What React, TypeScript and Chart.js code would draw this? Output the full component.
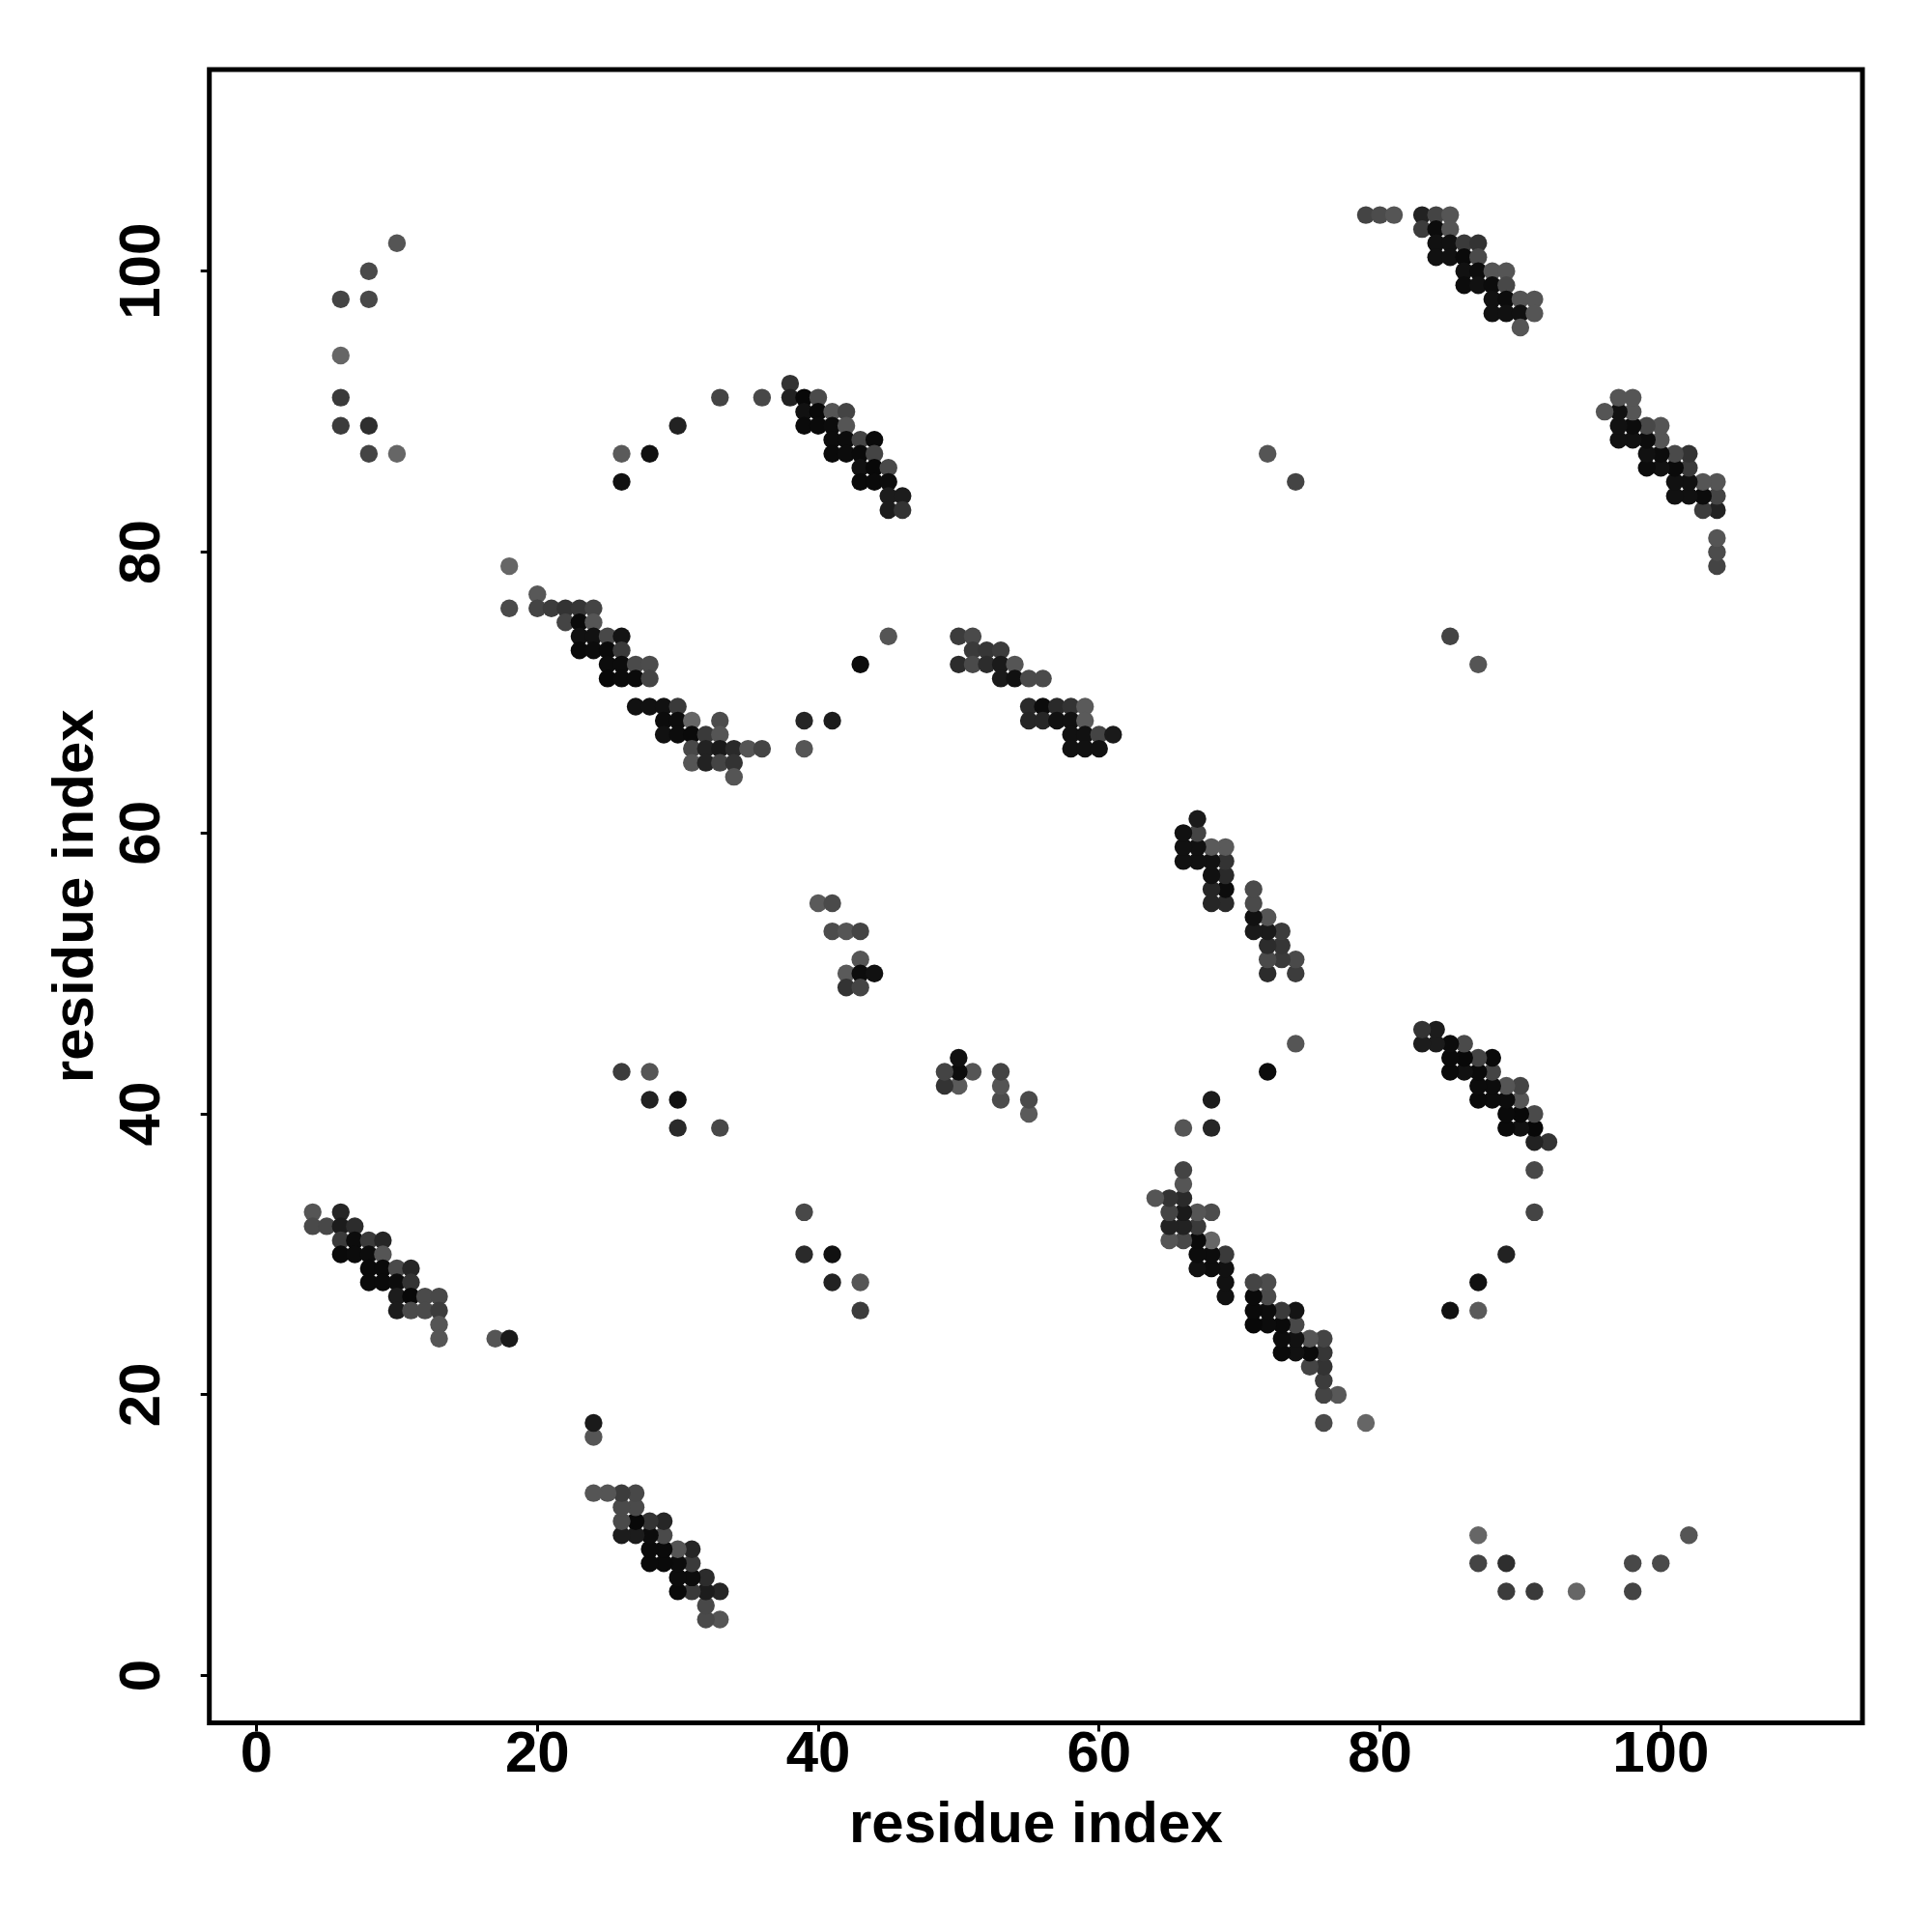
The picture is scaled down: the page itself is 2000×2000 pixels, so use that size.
import React, { useEffect, useRef } from "react";
import { Chart, registerables } from "chart.js";

Chart.register(...registerables);

// Contact pairs (i < j) read from the upper triangle; each contact is drawn at (i, j) and (j, i).
const contactI: number[] = [
  10, 8, 6, 8, 6, 6, 6, 8, 8, 10,
  4, 6, 4, 5, 6, 7, 6, 7, 8, 9, 6, 7, 8, 9, 8, 9, 10, 11, 8, 9, 10, 11, 10, 11, 12, 13, 10, 11, 12, 13, 13, 13, 17, 18,
  18, 18, 20, 20, 21, 22, 23, 24, 22, 23, 24, 23, 24, 25, 26, 23, 24, 25, 26, 25, 26, 27, 28, 25, 26, 27, 28,
  27, 28, 29, 30, 29, 30, 31, 33, 29, 30, 31, 32, 33, 31, 32, 33, 34, 35, 36, 31, 32, 33, 34, 34,
  26, 28, 26, 30, 33, 36, 38, 38, 39, 40, 39, 40, 41, 42, 39, 40, 41, 42, 41, 42, 43, 44, 41, 42, 43, 44,
  43, 44, 45, 43, 44, 45, 45, 46, 45, 46,
  26, 28, 28, 30, 30, 33, 40, 41, 41, 42, 43, 43, 42, 43, 44, 42, 43,
  39, 41, 39, 43, 45, 50, 51, 51, 52, 53, 50, 51, 52, 53, 54, 53, 54, 55, 56,
  55, 56, 57, 58, 59, 55, 56, 57, 58, 59, 58, 59, 60, 61, 58, 59, 60,
  72, 74,
  79, 80, 81, 83, 84, 85, 83, 84, 85, 84, 85, 86, 87, 84, 85, 86, 87, 86, 87, 88, 89, 86, 87, 88, 89,
  88, 89, 90, 91, 88, 89, 90, 91, 90,
];

const contactJ: number[] = [
  102, 100, 98, 98, 94, 91, 89, 89, 87, 87,
  33, 33, 32, 32, 32, 32, 31, 31, 31, 31, 30, 30, 30, 30, 29, 29, 29, 29, 28, 28, 28, 28, 27, 27, 27, 27, 26, 26, 26, 26, 25, 24, 24, 24,
  79, 76, 77, 76, 76, 76, 76, 76, 75, 75, 75, 74, 74, 74, 74, 73, 73, 73, 73, 72, 72, 72, 72, 71, 71, 71, 71,
  69, 69, 69, 69, 68, 68, 68, 68, 67, 67, 67, 67, 67, 66, 66, 66, 66, 66, 66, 65, 65, 65, 65, 64,
  87, 87, 85, 89, 91, 91, 92, 91, 91, 91, 90, 90, 90, 90, 89, 89, 89, 89, 88, 88, 88, 88, 87, 87, 87, 87,
  86, 86, 86, 85, 85, 85, 84, 84, 83, 83,
  43, 43, 41, 41, 39, 39, 55, 55, 53, 53, 53, 51, 50, 50, 50, 49, 49,
  68, 68, 66, 72, 74, 74, 74, 73, 73, 73, 72, 72, 72, 72, 72, 71, 71, 71, 71,
  69, 69, 69, 69, 69, 68, 68, 68, 68, 68, 67, 67, 67, 67, 66, 66, 66,
  87, 85,
  104, 104, 104, 104, 104, 104, 103, 103, 103, 102, 102, 102, 102, 101, 101, 101, 101, 100, 100, 100, 100, 99, 99, 99, 99,
  98, 98, 98, 98, 97, 97, 97, 97, 96,
];

// Grey level (0 = black, 255 = white) of each contact mark.
const contactGrey: number[] = [
  85, 74, 68, 72, 102, 58, 60, 46, 68, 102,
  85, 38, 74, 72, 28, 44, 58, 12, 58, 38, 10, 12, 12, 85, 10, 10, 74, 38, 10, 10, 12, 51, 28, 8, 74, 72, 28, 74, 74, 60, 85, 85, 85, 26,
  102, 74, 88, 68, 60, 51, 54, 68, 68, 10, 85, 17, 17, 72, 20, 10, 12, 10, 58, 12, 12, 74, 76, 8, 10, 10, 68,
  17, 17, 17, 58, 12, 12, 102, 76, 17, 12, 10, 58, 85, 72, 34, 26, 42, 85, 68, 85, 34, 68, 51, 85,
  90, 17, 17, 34, 68, 72, 51, 34, 8, 74, 17, 8, 85, 68, 10, 10, 12, 85, 12, 12, 68, 10, 10, 12, 10, 68,
  17, 8, 74, 10, 10, 12, 28, 28, 28, 51,
  60, 85, 34, 17, 42, 72, 90, 74, 76, 85, 68, 85, 90, 12, 17, 51, 68,
  38, 28, 85, 12, 85, 60, 74, 58, 54, 60, 44, 74, 44, 26, 85, 26, 17, 74, 74,
  42, 12, 42, 51, 90, 38, 38, 17, 17, 90, 17, 17, 68, 26, 17, 17, 17,
  85, 68,
  68, 76, 85, 34, 68, 85, 60, 12, 85, 17, 17, 58, 51, 17, 17, 10, 74, 17, 12, 85, 85, 12, 17, 12, 72,
  17, 12, 85, 85, 17, 17, 17, 85, 85,
];

const axisTicks: number[] = [0, 20, 40, 60, 80, 100];
const axisMin = -3.36;
const axisMax = 114.36;
const axisTitle = "residue index";

const FONT = "'Liberation Sans', Arial, Helvetica, sans-serif";

export default function App() {
  const canvasRef = useRef<HTMLCanvasElement | null>(null);

  useEffect(() => {
    const canvas = canvasRef.current;
    if (!canvas) return;

    const points: { x: number; y: number }[] = [];
    const colors: string[] = [];
    for (let k = 0; k < contactI.length; k++) {
      const g = contactGrey[k];
      const c = `rgb(${g},${g},${g})`;
      points.push({ x: contactI[k], y: contactJ[k] });
      colors.push(c);
      points.push({ x: contactJ[k], y: contactI[k] });
      colors.push(c);
    }

    const boxPlugin = {
      id: "boxFrame",
      afterDraw(chart: any) {
        const { ctx, chartArea } = chart;
        ctx.save();
        ctx.strokeStyle = "#000";
        ctx.lineWidth = 5;
        ctx.strokeRect(
          chartArea.left,
          chartArea.top,
          chartArea.right - chartArea.left,
          chartArea.bottom - chartArea.top
        );
        ctx.restore();
      },
    };

    const tickFont = { family: FONT, weight: "bold" as const, size: 60, lineHeight: 1 };
    const titleFont = { family: FONT, weight: "bold" as const, size: 60, lineHeight: 1 };

    const chart = new Chart(canvas, {
      type: "scatter",
      data: {
        datasets: [
          {
            data: points,
            backgroundColor: colors,
            pointRadius: 9.2,
            pointHoverRadius: 9.2,
            pointBorderWidth: 0,
            borderWidth: 0,
          },
        ],
      },
      plugins: [boxPlugin],
      options: {
        animation: false,
        responsive: false,
        devicePixelRatio: 1,
        layout: { padding: { top: 72, right: 72, left: 0, bottom: 0 } },
        plugins: {
          legend: { display: false },
          tooltip: { enabled: false },
          title: { display: false },
        },
        scales: {
          x: {
            type: "linear",
            min: axisMin,
            max: axisMax,
            afterBuildTicks: (s: any) => {
              s.ticks = axisTicks.map((v) => ({ value: v }));
            },
            afterFit: (s: any) => {
              s.height = 216.5;
            },
            border: { display: false },
            grid: {
              drawOnChartArea: false,
              drawTicks: true,
              tickLength: 9,
              tickWidth: 3,
              tickColor: "#000",
            },
            ticks: {
              autoSkip: false,
              maxRotation: 0,
              minRotation: 0,
              padding: -5,
              color: "#000",
              font: tickFont,
            },
            title: {
              display: true,
              text: axisTitle,
              color: "#000",
              font: titleFont,
              padding: { top: 0, bottom: 80 },
            },
          },
          y: {
            type: "linear",
            min: axisMin,
            max: axisMax,
            afterBuildTicks: (s: any) => {
              s.ticks = axisTicks.map((v) => ({ value: v }));
            },
            afterFit: (s: any) => {
              s.width = 216.7;
            },
            border: { display: false },
            grid: {
              drawOnChartArea: false,
              drawTicks: true,
              tickLength: 9,
              tickWidth: 3,
              tickColor: "#000",
            },
            ticks: {
              autoSkip: false,
              minRotation: 90,
              maxRotation: 90,
              crossAlign: "center",
              padding: 8.7,
              color: "#000",
              font: tickFont,
            },
            title: {
              display: true,
              text: axisTitle,
              color: "#000",
              font: titleFont,
              padding: { top: 49, bottom: 0 },
            },
          },
        },
      },
    });

    return () => {
      chart.destroy();
    };
  }, []);

  return (
    <div style={{ position: "absolute", left: 0, top: 0, width: 2000, height: 2000, background: "#fff" }}>
      <canvas ref={canvasRef} width={2000} height={2000} style={{ width: 2000, height: 2000, display: "block" }} />
    </div>
  );
}
